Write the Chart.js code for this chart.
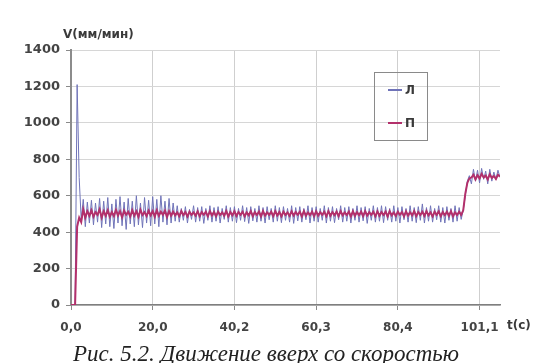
<!DOCTYPE html>
<html lang="ru">
<head>
<meta charset="utf-8">
<style>
    body { margin: 0; background: #fff; }
    #wrap { width: 537px; height: 363px; position: relative; }
</style>
</head>
<body>
<div id="wrap"><canvas id="speedChart"></canvas></div>
<script src="https://cdn.jsdelivr.net/npm/chart.js"></script>
<script>
    // подписи оси времени (каждые 40 отсчётов)
    const tickLabels = ['0,0', '20,0', '40,2', '60,3', '80,4', '101,1'];
    const sampleStep = 40;
    const lastSample = 210;
    const yTicks = [0, 200, 400, 600, 800, 1000, 1200, 1400];

    // левый канал (Л)
    const speedLeft = [
        0, 0, 0, 1210, 700, 470, 580, 430, 565, 450,
        575, 440, 560, 455, 585, 425, 570, 445, 590, 430,
        555, 420, 580, 450, 595, 435, 565, 415, 585, 445,
        570, 430, 600, 440, 560, 425, 590, 450, 575, 435,
        595, 445, 580, 430, 600, 455, 570, 440, 585, 450,
        560, 460, 545, 455, 530, 465, 540, 450, 525, 470,
        545, 455, 535, 460, 540, 448, 530, 465, 545, 455,
        535, 460, 540, 450, 530, 470, 545, 455, 535, 460,
        540, 452, 530, 465, 545, 458, 535, 448, 540, 462,
        530, 455, 545, 460, 535, 450, 540, 468, 530, 455,
        545, 460, 535, 452, 540, 465, 530, 455, 545, 448,
        535, 462, 540, 455, 530, 468, 545, 450, 535, 460,
        540, 455, 530, 465, 545, 450, 535, 460, 540, 452,
        530, 468, 545, 455, 535, 460, 540, 450, 530, 465,
        545, 455, 535, 462, 540, 448, 530, 465, 545, 455,
        535, 460, 545, 452, 540, 465, 530, 455, 545, 460,
        535, 450, 540, 468, 530, 455, 545, 460, 535, 452,
        540, 465, 555, 450, 535, 460, 545, 455, 530, 468,
        545, 455, 535, 450, 540, 465, 530, 455, 545, 460,
        535, 470, 520, 600, 680, 710, 665, 745, 680, 740,
        670, 750, 690, 735, 665, 745, 680, 730, 690, 740,
        700
    ];

    // правый канал (П)
    const speedRight = [
        0, 0, 0, 430, 480, 455, 525, 480, 515, 490,
        520, 485, 510, 495, 525, 480, 515, 490, 520, 485,
        510, 488, 522, 492, 515, 482, 518, 495, 512, 486,
        520, 490, 514, 484, 522, 494, 510, 488, 518, 492,
        516, 485, 520, 490, 512, 495, 518, 484, 515, 490,
        512, 492, 508, 488, 515, 494, 510, 486, 512, 495,
        508, 490, 514, 488, 510, 495, 512, 487, 515, 492,
        510, 488, 512, 494, 508, 490, 515, 486, 510, 493,
        514, 489, 510, 495, 512, 487, 508, 492, 515, 488,
        510, 494, 512, 486, 515, 490, 508, 495, 512, 488,
        515, 492, 510, 487, 512, 494, 508, 489, 514, 491,
        510, 495, 512, 486, 515, 490, 508, 493, 512, 488,
        514, 491, 509, 495, 512, 487, 515, 490, 510, 493,
        512, 488, 515, 492, 508, 494, 512, 486, 514, 490,
        510, 493, 512, 488, 515, 491, 509, 495, 512, 487,
        514, 490, 510, 494, 512, 486, 515, 492, 508, 489,
        512, 495, 510, 487, 514, 491, 509, 493, 515, 488,
        510, 494, 512, 489, 515, 492, 508, 486, 512, 495,
        514, 488, 510, 493, 512, 490, 515, 487, 509, 494,
        512, 495, 520, 610, 670, 695, 700, 715, 690, 712,
        695, 720, 700, 710, 690, 718, 698, 708, 692, 715,
        705
    ];

    const seriesNames = ['Л', 'П'];
    const xTickFont = { family: 'DejaVu Sans', size: 12, weight: 'bold' };
    const yTickFont = { family: 'DejaVu Sans', size: 13, weight: 'bold' };

    function toPoints(values) {
        return values.map((v, i) => ({ x: i, y: v }));
    }

    // подписи осей, легенда в рамке и подпись рисунка
    const decorPlugin = {
        id: 'decor',
        afterDraw(chart) {
            const ctx = chart.ctx;
            const area = chart.chartArea;
            ctx.save();
            ctx.fillStyle = '#3a3a3a';
            ctx.font = 'bold 12px "DejaVu Sans"';
            ctx.textBaseline = 'middle';
            ctx.textAlign = 'left';
            ctx.fillText('V(мм/мин)', area.left - 8, area.top - 15);
            ctx.fillText('t(c)', area.right + 7, area.bottom + 21);

            // легенда
            const bx = area.left + 303, by = area.top + 22, bw = 53, bh = 68;
            ctx.strokeStyle = '#8a8a8a';
            ctx.lineWidth = 1;
            ctx.strokeRect(bx + 0.5, by + 0.5, bw, bh);
            chart.data.datasets.forEach((ds, i) => {
                const ly = by + 18 + i * 33;
                ctx.strokeStyle = ds.borderColor;
                ctx.lineWidth = 2;
                ctx.beginPath();
                ctx.moveTo(bx + 14, ly);
                ctx.lineTo(bx + 28, ly);
                ctx.stroke();
                ctx.fillStyle = '#3a3a3a';
                ctx.fillText(ds.label, bx + 31, ly + 1);
            });

            // подпись рисунка
            ctx.font = 'italic 23px "Liberation Serif"';
            ctx.textAlign = 'center';
            ctx.textBaseline = 'alphabetic';
            ctx.fillStyle = '#222';
            ctx.fillText('Рис. 5.2. Движение вверх со скоростью', 266, 361);
            ctx.restore();
        }
    };

    new Chart(document.getElementById('speedChart'), {
        type: 'line',
        data: {
            datasets: [
                {
                    label: seriesNames[0],
                    data: toPoints(speedLeft),
                    borderColor: '#6f73b8',
                    borderWidth: 1,
                    pointRadius: 0,
                    tension: 0,
                    order: 2
                },
                {
                    label: seriesNames[1],
                    data: toPoints(speedRight),
                    borderColor: '#b3306b',
                    borderWidth: 2,
                    pointRadius: 0,
                    tension: 0,
                    order: 1
                }
            ]
        },
        options: {
            responsive: true,
            maintainAspectRatio: false,
            animation: false,
            layout: { padding: { top: 50, right: 37, left: 0, bottom: 0 } },
            plugins: {
                legend: { display: false },
                tooltip: { enabled: false }
            },
            scales: {
                x: {
                    type: 'linear',
                    min: 0,
                    max: lastSample,
                    afterFit: s => { s.height = 58; },
                    border: { color: '#7f7f7f', width: 1.5 },
                    grid: { color: '#cfcfcf', tickColor: '#8a8a8a', tickLength: 5 },
                    ticks: {
                        stepSize: sampleStep,
                        includeBounds: false,
                        autoSkip: false,
                        maxRotation: 0,
                        padding: 11,
                        color: '#444',
                        font: xTickFont,
                        callback: v => (v % sampleStep === 0 ? tickLabels[v / sampleStep] : null)
                    }
                },
                y: {
                    min: yTicks[0],
                    max: yTicks[yTicks.length - 1],
                    afterFit: s => { s.width = 71; },
                    afterBuildTicks: s => { s.ticks = yTicks.map(v => ({ value: v })); },
                    border: { color: '#8c8c8c', width: 2 },
                    grid: { color: '#d6d6d6', tickColor: '#8a8a8a', tickLength: 5 },
                    ticks: {
                        padding: 6,
                        color: '#444',
                        font: yTickFont,
                        callback: v => String(v)
                    }
                }
            }
        },
        plugins: [decorPlugin]
    });
</script>
</body>
</html>
